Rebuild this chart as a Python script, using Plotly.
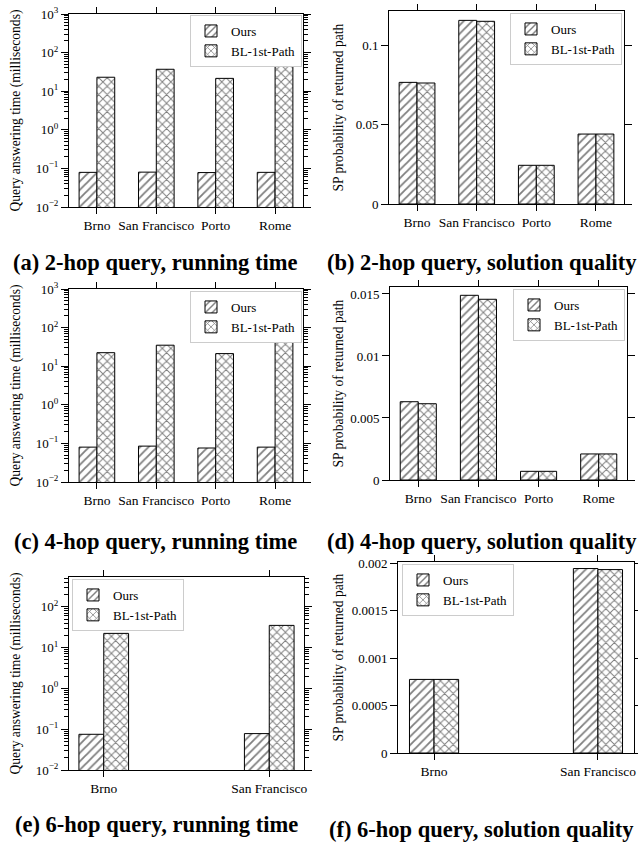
import plotly.graph_objects as go

W, H = 638, 848
FONT = "Liberation Serif, Times New Roman, serif"

cities4 = ["Brno", "San Francisco", "Porto", "Rome"]
cities2 = ["Brno", "San Francisco"]
series_names = ["Ours", "BL-1st-Path"]

time2_ours = [0.079, 0.080, 0.078, 0.079]
time2_bl = [23, 37, 21.5, 50]
qual2_ours = [0.0767, 0.1158, 0.0244, 0.0441]
qual2_bl = [0.0763, 0.1152, 0.0244, 0.0441]
time4_ours = [0.080, 0.085, 0.076, 0.080]
time4_bl = [22.4, 35, 21.2, 47]
qual4_ours = [0.00631, 0.01489, 0.00070, 0.00210]
qual4_bl = [0.00615, 0.01457, 0.00070, 0.00210]
time6_ours = [0.075, 0.078]
time6_bl = [22.3, 35]
qual6_ours = [0.000776, 0.001945]
qual6_bl = [0.000776, 0.001934]

log_tickvals = [0.01, 0.1, 1, 10, 100, 1000]
log_ticktext = ["10<sup>−2</sup>", "10<sup>−1</sup>", "10<sup>0</sup>",
                "10<sup>1</sup>", "10<sup>2</sup>", "10<sup>3</sup>"]
qual2_ticks = [0, 0.05, 0.1]
qual2_text = ["0", "0.05", "0.1"]
qual4_ticks = [0, 0.005, 0.01, 0.015]
qual4_text = ["0", "0.005", "0.01", "0.015"]
qual6_ticks = [0, 0.0005, 0.001, 0.0015, 0.002]
qual6_text = ["0", "0.0005", "0.001", "0.0015", "0.002"]

time_title = "Query answering time (milliseconds)"
qual_title = "SP probability of returned path"

captions = ["(a) 2-hop query, running time", "(b) 2-hop query, solution quality",
            "(c) 4-hop query, running time", "(d) 4-hop query, solution quality",
            "(e) 6-hop query, running time", "(f) 6-hop query, solution quality"]

minor_log = [m * 10 ** e for e in range(-2, 3) for m in range(2, 10)]

panels = [
    dict(cats=cities4, ours=time2_ours, bl=time2_bl, log=True, box=(69, 303, 14, 207),
         yr=[-2, 3], tv=log_tickvals, tt=log_ticktext, xr=[-0.47, 3.47], bw=0.3,
         leg=(190, 15), title=time_title, tx=15, cap=(155, 262)),
    dict(cats=cities4, ours=qual2_ours, bl=qual2_bl, log=False, box=(389, 624, 11, 204),
         yr=[0, 0.1217], tv=qual2_ticks, tt=qual2_text, xr=[-0.47, 3.47], bw=0.3,
         leg=(510, 13), title=qual_title, tx=338, cap=(482, 262)),
    dict(cats=cities4, ours=time4_ours, bl=time4_bl, log=True, box=(69, 303, 289, 482),
         yr=[-2, 3], tv=log_tickvals, tt=log_ticktext, xr=[-0.47, 3.47], bw=0.3,
         leg=(190, 291), title=time_title, tx=15, cap=(155, 541)),
    dict(cats=cities4, ours=qual4_ours, bl=qual4_bl, log=False, box=(390, 627, 287, 480),
         yr=[0, 0.01556], tv=qual4_ticks, tt=qual4_text, xr=[-0.47, 3.47], bw=0.3,
         leg=(513, 289), title=qual_title, tx=338, cap=(482, 541)),
    dict(cats=cities2, ours=time6_ours, bl=time6_bl, log=True, box=(69, 304, 577, 770),
         yr=[-2, 2.73], tv=log_tickvals, tt=log_ticktext, xr=[-0.21, 1.21], bw=0.15,
         leg=(72, 579), title=time_title, tx=15, cap=(156, 824)),
    dict(cats=cities2, ours=qual6_ours, bl=qual6_bl, log=False, box=(398, 634, 562, 753),
         yr=[0, 0.002014], tv=qual6_ticks, tt=qual6_text, xr=[-0.22, 1.22], bw=0.15,
         leg=(402, 564), title=qual_title, tx=338, cap=(482, 829)),
]

fig = go.Figure()
annotations = []
layout = dict(width=W, height=H, autosize=False,
              margin=dict(l=0, r=0, t=0, b=0, pad=0, autoexpand=False),
              paper_bgcolor="white", plot_bgcolor="white",
              font=dict(family=FONT, size=13, color="black"),
              barmode="overlay", showlegend=True)

def pattern(shape):
    return dict(shape=shape, fgcolor="black", bgcolor="white", size=6,
                solidity=0.3, fillmode="overlay")

for i, p in enumerate(panels):
    n = i + 1
    xa = "x" if n == 1 else f"x{n}"
    ya = "y" if n == 1 else f"y{n}"
    lg = "legend" if n == 1 else f"legend{n}"
    for k, (name, vals, shape, off) in enumerate(
            [(series_names[0], p["ours"], "/", -p["bw"]),
             (series_names[1], p["bl"], "x", 0.0)]):
        fig.add_trace(go.Bar(
            x=p["cats"], y=vals, name=name, xaxis=xa, yaxis=ya, legend=lg,
            width=p["bw"], offset=off,
            marker=dict(color="white", line=dict(color="black", width=1),
                        pattern=pattern(shape)),
        ))
    x0, x1, y0, y1 = p["box"]
    xkey = "xaxis" if n == 1 else f"xaxis{n}"
    ykey = "yaxis" if n == 1 else f"yaxis{n}"
    layout[xkey] = dict(domain=[x0 / W, x1 / W], anchor=ya, range=p["xr"],
                        type="category", showline=True, linecolor="black", linewidth=1,
                        mirror="ticks", ticks="outside", ticklen=6, tickcolor="black",
                        showgrid=False, zeroline=False, automargin=False,
                        tickfont=dict(family=FONT, size=13.5, color="black"))
    yax = dict(domain=[1 - y1 / H, 1 - y0 / H], anchor=xa,
               showline=True, linecolor="black", linewidth=1, mirror="ticks",
               ticks="outside", ticklen=7, tickcolor="black", automargin=False,
               showgrid=False, zeroline=False, tickmode="array",
               tickvals=p["tv"], ticktext=p["tt"],
               tickfont=dict(family=FONT, size=13, color="black"))
    if p["log"]:
        yax.update(type="log", range=p["yr"],
                   minor=dict(tickmode="array", tickvals=minor_log, ticks="outside",
                              ticklen=4, tickcolor="black", showgrid=False))
    else:
        yax.update(type="linear", range=p["yr"])
    layout[ykey] = yax
    lx, ly = p["leg"]
    layout[lg] = dict(x=lx / W, y=1 - ly / H, xanchor="left", yanchor="top",
                      bgcolor="white", bordercolor="#cccccc", borderwidth=1,
                      font=dict(family=FONT, size=13, color="black"),
                      traceorder="normal", tracegroupgap=0)
    annotations.append(dict(text=p["title"], x=p["tx"] / W, y=1 - (y0 + y1) / 2 / H,
                            xref="paper", yref="paper", textangle=-90, showarrow=False,
                            xanchor="center", yanchor="middle",
                            font=dict(family=FONT, size=13.6, color="black")))
    cx, cy = p["cap"]
    annotations.append(dict(text="<b>" + captions[i] + "</b>", x=cx / W, y=1 - cy / H,
                            xref="paper", yref="paper", showarrow=False,
                            xanchor="center", yanchor="middle",
                            font=dict(family=FONT, size=22.5, color="black")))

layout["annotations"] = annotations
fig.update_layout(**layout)
fig.write_html("out.html", config={"displayModeBar": False},
               post_script="document.body.style.margin='0px';"
                           "document.body.style.overflow='hidden';")
